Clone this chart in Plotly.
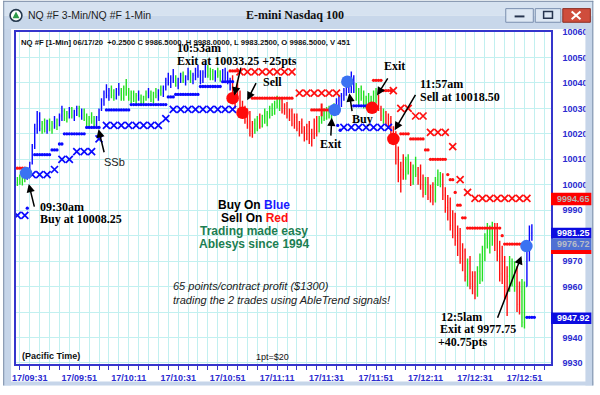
import plotly.graph_objects as go

# ---------------- data ----------------
bar_minute = list(range(-5, 204))   # minutes after 09:31 (1-min bars)
bar_open = [
    10001, 10002, 10001, 10003.5, 10002.25, 10006, 10008.5, 10015, 10022, 10025,
    10022, 10024, 10021, 10025, 10022, 10024, 10023, 10025.5, 10027, 10029,
    10026, 10028, 10030, 10027, 10029, 10030, 10027, 10029.5, 10025.5, 10024,
    10026, 10025, 10023.5, 10026.5, 10029.5, 10033, 10036, 10035, 10037, 10035,
    10034, 10037.5, 10036, 10034, 10038, 10036, 10034, 10036, 10033, 10035,
    10034, 10032, 10034.5, 10036, 10035, 10033.5, 10036, 10035, 10037, 10036,
    10038.5, 10041, 10040, 10042, 10041, 10039, 10041.5, 10043, 10041, 10042.5,
    10044, 10041, 10043, 10045, 10043, 10041, 10044, 10046, 10043, 10044.5,
    10042, 10044, 10043, 10041.5, 10045, 10042, 10040, 10038, 10034, 10036,
    10035, 10029, 10028, 10025, 10027, 10021, 10024, 10022, 10026, 10023,
    10027, 10025, 10028, 10030, 10028, 10032, 10031, 10033, 10029, 10031,
    10027, 10029, 10024, 10026.5, 10022, 10024, 10021, 10018, 10023, 10017,
    10020, 10025, 10021, 10026, 10028, 10026, 10030, 10027, 10029, 10031,
    10033, 10031, 10035, 10037, 10039, 10037, 10041, 10037, 10034, 10036.5,
    10034, 10031, 10034, 10032, 10030.5, 10036, 10033, 10030, 10027, 10028.5,
    10024, 10026, 10020, 10018, 10010, 10003, 10006, 10004, 10010, 10005,
    10001, 10007, 10004, 10002, 10000, 9997, 10001, 9995, 9999, 9994,
    10002, 10004, 10000, 9996, 9991, 9993, 9984, 9987, 9978, 9981,
    9971, 9974, 9964, 9969, 9961, 9964, 9957, 9966, 9963, 9974,
    9979, 9977, 9983, 9978, 9983, 9972, 9965, 9970, 9957, 9964,
    9969, 9962, 9967, 9953, 9958, 9946, 9960, 9976, 9981]
bar_high = [
    10003, 10004, 10004.5, 10005, 10006.5, 10009, 10016, 10024, 10029, 10028.5,
    10025, 10026, 10025.5, 10026, 10025, 10027, 10026, 10028, 10031, 10030,
    10029, 10030.5, 10030.5, 10029.5, 10031, 10031, 10030, 10030, 10028, 10027,
    10028.5, 10027, 10027, 10030, 10034, 10037, 10039.5, 10038, 10039, 10037.5,
    10038, 10040, 10038, 10039, 10041.5, 10038, 10037, 10037, 10036, 10037,
    10035.5, 10035, 10037, 10038, 10037, 10036.5, 10038, 10037.5, 10039, 10039,
    10042, 10044, 10043, 10045.5, 10043, 10042, 10044, 10044.5, 10043, 10046,
    10045, 10044, 10046, 10047, 10045, 10045, 10048, 10047, 10046, 10045.5,
    10045, 10046, 10045, 10045.5, 10046, 10044.5, 10042, 10043, 10038, 10041,
    10037, 10033, 10031, 10030, 10029, 10025, 10026, 10027, 10028, 10027.5,
    10030, 10029, 10031, 10032, 10033, 10035, 10034, 10034, 10032, 10032.5,
    10030, 10030, 10028, 10028, 10025, 10026, 10023, 10024, 10025, 10022,
    10026, 10027, 10027, 10029, 10030, 10030.5, 10031, 10030, 10032, 10034,
    10035, 10036, 10038, 10041, 10042, 10044.5, 10043, 10040, 10038, 10039,
    10037, 10035, 10036, 10035, 10037, 10038, 10035.5, 10031, 10030, 10029,
    10028, 10027, 10023, 10021, 10015, 10009, 10012, 10011, 10012, 10009,
    10008, 10011, 10007, 10008, 10004, 10003, 10003, 10000, 10001, 10003,
    10006, 10005, 10004.5, 9999, 9996, 9995, 9990, 9989, 9984, 9983,
    9977, 9975, 9971, 9972, 9966, 9966, 9968, 9973, 9976, 9981,
    9985, 9984, 9985.5, 9985, 9985, 9978, 9976, 9972, 9968, 9972,
    9971, 9970, 9968, 9962, 9963, 9962, 9978, 9984, 9984.5]
bar_low = [
    9999.5, 10000, 9999.75, 10001, 10002, 10005, 10008, 10014, 10020, 10021,
    10020, 10020.5, 10020, 10021, 10020, 10022, 10021.5, 10023, 10025, 10025,
    10024.5, 10026, 10026, 10025, 10027, 10026.5, 10025.5, 10025, 10023, 10022.5,
    10024, 10022.5, 10023, 10025, 10029, 10031, 10034, 10033, 10034, 10033,
    10033.5, 10035, 10033, 10033, 10035, 10033, 10032, 10032.5, 10031, 10033,
    10031, 10031, 10033, 10034, 10032.5, 10032, 10034, 10033, 10035, 10034.5,
    10037, 10039, 10038, 10040, 10038.5, 10037.5, 10040, 10040, 10039, 10041,
    10040, 10039.5, 10041, 10042, 10039.5, 10040, 10042, 10042, 10041, 10041,
    10040.5, 10042, 10040.5, 10041, 10041, 10039.5, 10037, 10033, 10030, 10033,
    10027, 10026, 10024, 10022, 10019, 10018.5, 10020, 10021, 10022, 10022.5,
    10024, 10023, 10026, 10027, 10027.5, 10030, 10029, 10028, 10027.5, 10026,
    10025, 10023, 10022, 10021, 10019, 10020, 10017, 10017.5, 10016, 10015,
    10018, 10019, 10020.5, 10024, 10025, 10025.5, 10026, 10025, 10027, 10029,
    10030, 10030.5, 10033, 10035, 10036, 10036, 10036, 10033, 10031, 10033,
    10030, 10030, 10031, 10029.5, 10030, 10032, 10029, 10025, 10024, 10023,
    10022, 10019, 10016, 10008, 10001, 9997, 10002, 10002, 10004, 9999.5,
    10000, 10003, 10000, 9998, 9995, 9996, 9994, 9993, 9992, 9993,
    9999.5, 9999, 9994, 9989, 9986, 9982, 9979, 9976, 9972, 9969,
    9966, 9962, 9960, 9959, 9957, 9955, 9956, 9961, 9962, 9970,
    9975, 9973, 9976, 9974, 9970, 9962, 9961, 9955, 9948.5, 9958,
    9960, 9958, 9950, 9949, 9944, 9943.5, 9960, 9970, 9978]
bar_close = [
    10002, 10001, 10003.5, 10002.25, 10006, 10008.5, 10015, 10022, 10025, 10022,
    10024, 10021, 10025, 10022, 10024, 10023, 10025.5, 10027, 10029, 10026,
    10028, 10030, 10027, 10029, 10030, 10027, 10029.5, 10025.5, 10024, 10026,
    10025, 10023.5, 10026.5, 10029.5, 10033, 10036, 10035, 10037, 10035, 10034,
    10037.5, 10036, 10034, 10038, 10036, 10034, 10036, 10033, 10035, 10034,
    10032, 10034.5, 10036, 10035, 10033.5, 10036, 10035, 10037, 10036, 10038.5,
    10041, 10040, 10042, 10041, 10039, 10041.5, 10043, 10041, 10042.5, 10044,
    10041, 10043, 10045, 10043, 10041, 10044, 10046, 10043, 10044.5, 10042,
    10044, 10043, 10041.5, 10045, 10042, 10040, 10038, 10034, 10036, 10035,
    10029, 10028, 10025, 10027, 10021, 10024, 10022, 10026, 10023, 10027,
    10025, 10028, 10030, 10028, 10032, 10031, 10033, 10029, 10031, 10027,
    10029, 10024, 10026.5, 10022, 10024, 10021, 10018, 10023, 10017, 10020,
    10025, 10021, 10026, 10028, 10026, 10030, 10027, 10029, 10031, 10033,
    10031, 10035, 10037, 10039, 10037, 10041, 10037, 10034, 10036.5, 10034,
    10031, 10034, 10032, 10030.5, 10036, 10033, 10030, 10027, 10028.5, 10024,
    10026, 10020, 10018, 10010, 10003, 10006, 10004, 10010, 10005, 10001,
    10007, 10004, 10002, 10000, 9997, 10001, 9995, 9999, 9994, 10002,
    10004, 10000, 9996, 9991, 9993, 9984, 9987, 9978, 9981, 9971,
    9974, 9964, 9969, 9961, 9964, 9957, 9966, 9963, 9974, 9979,
    9977, 9983, 9978, 9983, 9972, 9965, 9970, 9957, 9964, 9969,
    9962, 9967, 9953, 9958, 9946, 9960, 9976, 9981, 9981.25]
# trend colour of each bar: b = blue (up), g = green, r = red (down)
bar_trend = ("ggggbbbbbb" "ggbggbgbbg" "gbgbbgbggg" "ggbbbbbbgg" "bbgggggggb"
             "gggbgggbgb" "bbbbgbbgbb" "gbbbbbbggg" "bggbbbbrrr" "rrrrrrggrg"
             "gggggggrrr" "rrrrrrrrrr" "rrgggggggb" "bbbbbbbggg" "ggggggrrgr"
             "rrrrrrrggr" "ggrrrgrrrg" "ggrrrrrrrr" "rrgrrrgggg" "gggrrrrrrg"
             "ggrrggbbb")

# fast stop (1-min dots): (first minute, last minute, level)
blue_dot_stop = [(-1, -1, 9990.8), (2, 8, 10011.8), (9, 11, 10013.7), (12, 13, 10016),
                 (14, 22, 10020), (23, 28, 10022.5), (31, 40, 10029.4), (41, 55, 10031.5),
                 (56, 58, 10034.5), (59, 68, 10035.5), (69, 77, 10038.6), (78, 82, 10040.5),
                 (131, 137, 10031), (201, 204, 9947.92)]
blue_dot_extra_min = [124.5, 125.5]
blue_dot_extra_val = [10023.3, 10021.4]
red_dot_stop = [(-5, -2, 10006.5), (81, 84, 10044.7), (90, 106, 10034), (114, 123, 10029.4),
                (139, 142, 10041), (143, 146, 10037), (150, 153, 10020), (154, 159, 10018),
                (160, 161, 10013.7), (162, 168, 10010), (169, 169, 10004), (170, 171, 10002),
                (172, 172, 9997), (173, 174, 9992), (175, 176, 9987), (177, 190, 9983),
                (191, 191, 9980), (192, 200, 9976.72)]
# slow stop (3-min X marks)
blue_x_min = [-5, -2, 1, 4, 7, 10, 13, 16, 19, 22, 25, 28, 31, 34, 37, 40, 43, 46, 49, 52,
              55, 58, 61, 64, 67, 70, 73, 76, 79, 82, 127, 130, 133, 136, 139, 142, 145]
blue_x_val = [9988, 9988, 10004, 10004, 10004, 10006, 10010, 10010, 10013, 10013, 10013,
              10018, 10023.3, 10023.3, 10023.3, 10023.3, 10023.3, 10023.3, 10023.3, 10023.3,
              10026, 10029.6, 10029.6, 10029.6, 10029.6, 10029.6, 10029.6, 10029.6, 10029.6,
              10029.6, 10022.5, 10022.5, 10022.5, 10022.5, 10022.5, 10022.5, 10022.5]
red_x_min = [85, 88, 91, 94, 97, 100, 103, 106, 109, 112, 115, 118, 121, 124,
             147, 150, 153, 156, 159, 162, 165, 168, 171, 174, 177,
             180, 183, 186, 189, 192, 195, 198, 201]
red_x_val = [10044.3, 10044.3, 10044.3, 10044.3, 10044.3, 10044.3, 10044.3, 10044.3,
             10036, 10036, 10036, 10036, 10036, 10036,
             10037, 10030, 10030, 10027, 10027, 10020.6, 10020.6, 10020.6, 10015, 10002, 9997,
             9994.65, 9994.65, 9994.65, 9994.65, 9994.65, 9994.65, 9994.65, 9994.65]
red_plus_min = [118]
red_plus_val = [10029.4]

# trade signals
buy_sig_min = [-1.5, 123.3, 128.4, 200.8]
buy_sig_val = [10004.6, 10029.4, 10040.5, 9975.9]
sell_sig_min = [82, 86, 138.4, 147]
sell_sig_val = [10034, 10028.3, 10030.2, 10018]

tick_min = [0, 20, 40, 60, 80, 100, 120, 140, 160, 180, 200]
tick_text = ["17/09:31", "17/09:51", "17/10:11", "17/10:31", "17/10:51", "17/11:11",
             "17/11:31", "17/11:51", "17/12:11", "17/12:31", "17/12:51"]
price_ticks = [9930, 9940, 9950, 9960, 9970, 9980, 9990, 10000, 10010, 10020, 10030,
               10040, 10050, 10060]
price_tick_text = ["9930", "9940", "", "9960", "9970", "", "9990", "10000", "10010",
                   "10020", "10030", "10040", "10050", "10060"]

# ---------------- styles ----------------
BLUE = "#0a0aff"
GREEN = "#22e022"
RED = "#ff1010"
AXBLUE = "#2b2bd0"
SANS = "Liberation Sans"
SERIF = "Liberation Serif"

fig = go.Figure()

trend_color = {"b": BLUE, "g": GREEN, "r": RED}
for key, col in trend_color.items():
    idx = [i for i, t in enumerate(bar_trend) if t == key]
    fig.add_trace(go.Ohlc(
        x=[bar_minute[i] for i in idx],
        open=[bar_open[i] for i in idx], high=[bar_high[i] for i in idx],
        low=[bar_low[i] for i in idx], close=[bar_close[i] for i in idx],
        increasing=dict(line=dict(color=col, width=1.4)),
        decreasing=dict(line=dict(color=col, width=1.4)),
        tickwidth=0.3, hoverinfo="skip", showlegend=False))


def expand(segs):
    xs, ys = [], []
    for a, b, v in segs:
        for m in range(a, b + 1):
            xs.append(m)
            ys.append(v)
    return xs, ys


bx, by = expand(blue_dot_stop)
rx, ry = expand(red_dot_stop)
fig.add_trace(go.Scatter(x=bx + blue_dot_extra_min, y=by + blue_dot_extra_val, mode="markers",
                         marker=dict(size=3.3, color=BLUE), hoverinfo="skip"))
fig.add_trace(go.Scatter(x=rx, y=ry, mode="markers",
                         marker=dict(size=3.3, color=RED), hoverinfo="skip"))
fig.add_trace(go.Scatter(x=blue_x_min, y=blue_x_val, mode="markers",
                         marker=dict(symbol="x-thin", size=7, line=dict(width=1.7, color=BLUE)),
                         hoverinfo="skip"))
fig.add_trace(go.Scatter(x=red_x_min, y=red_x_val, mode="markers",
                         marker=dict(symbol="x-thin", size=7, line=dict(width=1.7, color=RED)),
                         hoverinfo="skip"))
fig.add_trace(go.Scatter(x=red_plus_min, y=red_plus_val, mode="markers",
                         marker=dict(symbol="cross-thin", size=9, line=dict(width=2, color=RED)),
                         hoverinfo="skip"))
fig.add_trace(go.Scatter(x=buy_sig_min, y=buy_sig_val, mode="markers",
                         marker=dict(size=12.5, color="#3a72f2"), hoverinfo="skip"))
fig.add_trace(go.Scatter(x=sell_sig_min, y=sell_sig_val, mode="markers",
                         marker=dict(size=12.5, color="#ff0a0a"), hoverinfo="skip"))

# ---------------- pixel helpers for chrome ----------------
L, R, T, B = 13, 557, 32, 373


def px(x):
    return (x - L) / (R - L)


def py(y):
    return (B - y) / (B - T)


shapes = []
annos = []


def rect(x0, y0, x1, y1, fill, line=None, lw=0):
    shapes.append(dict(type="rect", xref="paper", yref="paper", x0=px(x0), x1=px(x1),
                       y0=py(y1), y1=py(y0), fillcolor=fill, layer="above",
                       line=dict(color=line or fill, width=lw)))


def seg(x0, y0, x1, y1, color, w):
    shapes.append(dict(type="line", xref="paper", yref="paper", x0=px(x0), x1=px(x1),
                       y0=py(y0), y1=py(y1), layer="above", line=dict(color=color, width=w)))


def ptext(x, y, text, size, color, family=SANS, anchor="left", weight="normal"):
    annos.append(dict(xref="paper", yref="paper", x=px(x), y=py(y), text=text,
                      showarrow=False, xanchor=anchor, yanchor="middle",
                      font=dict(family=family, size=size, color=color, weight=weight)))


# window frame
rect(0, 0, 600, 15, "#d6e2f0")
rect(0, 15, 600, 29, "#c8d7ea")
rect(0, 29, 8, 395, "#c6d5e9")
rect(592, 29, 600, 395, "#c6d5e9")
rect(0, 391, 600, 395, "#c6d5e9")
seg(0, 0.5, 600, 0.5, "#7d8fa8", 1)
seg(0.5, 0, 0.5, 395, "#7d8fa8", 1)
seg(599.5, 0, 599.5, 395, "#7d8fa8", 1)
# icon
shapes.append(dict(type="circle", xref="paper", yref="paper", x0=px(7), x1=px(19),
                   y0=py(21), y1=py(9), fillcolor="white", layer="above",
                   line=dict(color="#24384e", width=1.6)))
shapes.append(dict(type="path", xref="paper", yref="paper", layer="above",
                   path=f"M {px(13)} {py(11)} L {px(16.5)} {py(18)} L {px(9.5)} {py(18)} Z",
                   fillcolor="#2e9a4a", line=dict(color="#2e9a4a", width=0)))
ptext(23, 15, "NQ #F 3-Min/NQ #F 1-Min", 10.5, "#1e1e1e")
ptext(297, 15, "E-mini Nasdaq 100", 12, "#111111", family=SERIF, anchor="center", weight="bold")
# window buttons
rect(511, 8, 539, 22, "#dde7f3", "#7a8eae", 1)
rect(520, 15, 530, 17, "#26344e")
rect(541, 8, 567, 22, "#dde7f3", "#7a8eae", 1)
rect(549.5, 11, 558.5, 18, "rgba(0,0,0,0)", "#26344e", 1.5)
rect(569, 8, 597, 22, "#cf4d3c", "#8c2c22", 1)
seg(578, 11, 587, 19, "white", 2)
seg(578, 19, 587, 11, "white", 2)

# right-hand value boxes
rect(557, 197, 598, 210, "#ff0000")
ptext(561, 203.5, "9994.65", 9, "#b4b4b4", weight="bold")
rect(557, 233, 598, 244, "#0c0ce0")
ptext(561, 238.5, "9981.25", 9, "white", weight="bold")
rect(557, 244, 598, 256, "#4f70d4")
ptext(561, 250, "9976.72", 9, "#b8bcc8", weight="bold")
rect(557, 256, 598, 260, "#ff0000")
rect(557, 320, 598, 332, "#0c0ce0")
ptext(561, 326, "9947.92", 9, "white", weight="bold")

# in-plot texts
ptext(16, 43, "NQ #F [1-Min] 06/17/20  +0.2500 C 9986.5000, H 9988.0000, L 9983.2500, "
      "O 9986.5000, V 451", 7.7, "#111111", weight="bold")
ptext(17, 365, "(Pacific Time)", 9, "#111111", weight="bold")
ptext(255, 366, "1pt=$20", 9, "#111111")


def dtext(m, v, text, size=12, family=SERIF, weight="bold", color="black", anchor="left",
          style="normal"):
    annos.append(dict(x=m, y=v, xref="x", yref="y", text=text, showarrow=False,
                      xanchor=anchor, yanchor="middle",
                      font=dict(family=family, size=size, color=color, weight=weight,
                                style=style)))


def arrow(m_head, v_head, m_tail, v_tail):
    annos.append(dict(x=m_head, y=v_head, ax=m_tail, ay=v_tail, xref="x", yref="y",
                      axref="x", ayref="y", text="", showarrow=True, arrowhead=2,
                      arrowsize=1.1, arrowwidth=1.5, arrowcolor="black"))


dtext(58.8, 10053.9, "10:53am")
dtext(58.8, 10048.5, "Exit at 10033.25 +25pts")
dtext(93.4, 10040.5, "Sell")
dtext(3.2, 9991.2, "09:30am")
dtext(3.2, 9986.6, "Buy at 10008.25")
dtext(116.5, 10016, "Exit")
dtext(129.6, 10026, "Buy")
dtext(142.3, 10046.6, "Exit")
dtext(157, 10039.7, "11:57am")
dtext(157, 10034.4, "Sell at 10018.50")
dtext(165.4, 9948, "12:5lam")
dtext(165, 9943.4, "Exit at 9977.75")
dtext(164.2, 9938.4, "+40.75pts")
dtext(29, 10009.1, "SSb", size=11, family=SANS, weight="normal", color="#222222")

dtext(90.7, 9991.9, "Buy On <span style='color:#1a1aff'>Blue</span>", family=SANS,
      anchor="center")
dtext(90.7, 9986.9, "Sell On <span style='color:#ff1010'>Red</span>", family=SANS,
      anchor="center")
dtext(90.7, 9981.9, "Trading made easy", family=SANS, anchor="center", color="#1c7e52")
dtext(90.7, 9976.9, "Ablesys since 1994", family=SANS, anchor="center", color="#1c7e52")
dtext(57.3, 9960.2, "65 points/contract profit ($1300)", size=11, family=SANS,
      weight="normal", color="#222222", style="italic")
dtext(57.3, 9954.8, "trading the 2 trades using AbleTrend signals!", size=11, family=SANS,
      weight="normal", color="#222222", style="italic")

arrow(-0.4, 10000.3, 2, 9990.8)
arrow(27.8, 10021.8, 30.2, 10012.2)
arrow(82.7, 10035.1, 85.5, 10046.6)
arrow(87.9, 10033.2, 91.8, 10040.5)
arrow(122.1, 10026.3, 121.7, 10018.7)
arrow(129.2, 10035.9, 130.4, 10028.3)
arrow(140.4, 10035.1, 145.1, 10042.4)
arrow(147.5, 10021.4, 156.3, 10035.9)
arrow(198.8, 9972, 188.9, 9947.2)

GRID = "#c2f0f0"
FRAME = "#3535cc"
fig.update_layout(
    width=600, height=395, margin=dict(l=L, r=600 - R, t=T, b=395 - B),
    paper_bgcolor="white", plot_bgcolor="white", showlegend=False,
    shapes=shapes, annotations=annos,
    xaxis=dict(range=[(L - 27) / 2.515, (R - 27) / 2.515], tickmode="array",
               tickvals=tick_min, ticktext=tick_text,
               tickfont=dict(family=SANS, size=9, color=AXBLUE, weight="bold"),
               ticks="outside", ticklen=4, tickcolor=FRAME, tickwidth=1,
               showline=True, mirror=True, linecolor=FRAME, linewidth=1.5,
               showgrid=True, gridcolor=GRID, gridwidth=1, zeroline=False,
               rangeslider=dict(visible=False),
               minor=dict(tickmode="linear", tick0=0, dtick=4, ticks="outside", ticklen=4,
                          tickcolor=FRAME, showgrid=True, gridcolor=GRID, gridwidth=1)),
    yaxis=dict(side="right", range=[10060 - (B - 32) / 2.615, 10060 - (T - 32) / 2.615],
               tickmode="array", tickvals=price_ticks, ticktext=price_tick_text,
               tickfont=dict(family=SANS, size=9, color=AXBLUE, weight="bold"),
               ticks="", ticklabelstandoff=8,
               showline=True, mirror=True, linecolor=FRAME, linewidth=1.5,
               showgrid=True, gridcolor=GRID, gridwidth=1, zeroline=False),
)

fig.write_html("out.html")
